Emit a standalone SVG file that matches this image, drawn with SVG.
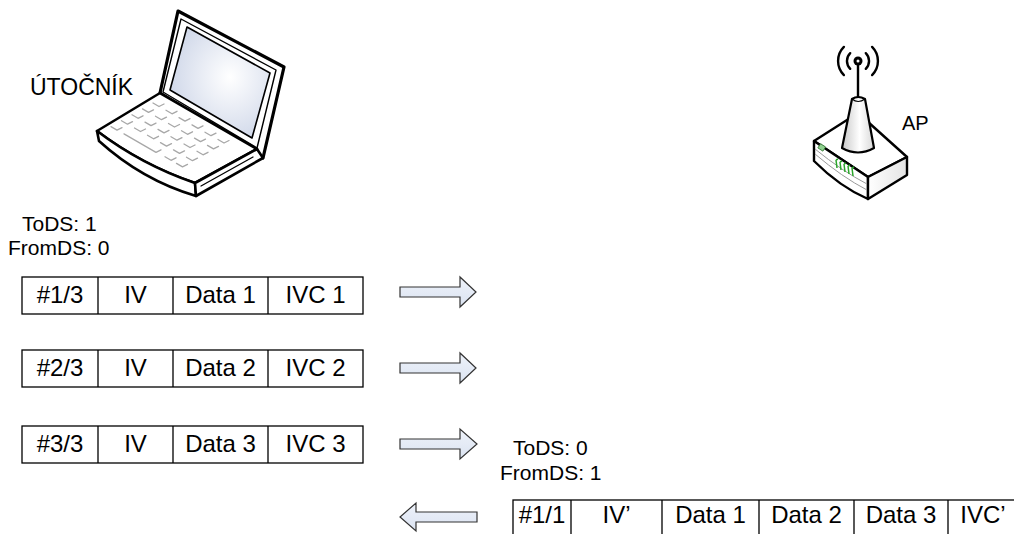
<svg xmlns="http://www.w3.org/2000/svg" width="1014" height="534" viewBox="0 0 1014 534">
  <style>
    text { font-family: "Liberation Sans", Arial, sans-serif; fill: #000; }
    .lbl { font-size: 21px; }
    .cell { font-size: 24px; text-anchor: middle; }
    .box { fill: #fff; stroke: #000; stroke-width: 1.3; }
    .div { stroke: #000; stroke-width: 1.3; }
    .arrow { fill: url(#arrowFill); stroke: #333; stroke-width: 1.2; stroke-linejoin: miter; }
    .ink { fill: none; stroke: #000; stroke-linejoin: round; stroke-linecap: round; }
    .keys { fill: none; stroke: #a8a8a8; stroke-width: 1.3; stroke-linecap: round; stroke-linejoin: round; }
  </style>
  <defs>
    <linearGradient id="arrowFill" x1="0" y1="0" x2="0" y2="1">
      <stop offset="0" stop-color="#eef2fa"/>
      <stop offset="1" stop-color="#dbe3f1"/>
    </linearGradient>
    <radialGradient id="screenFill" cx="0.6" cy="0.45" r="0.7">
      <stop offset="0" stop-color="#ffffff"/>
      <stop offset="1" stop-color="#c9d2e6"/>
    </radialGradient>
    <linearGradient id="coneFill" x1="0" y1="0" x2="1" y2="0">
      <stop offset="0" stop-color="#c8c8c8"/>
      <stop offset="0.55" stop-color="#ffffff"/>
      <stop offset="1" stop-color="#d8d8d8"/>
    </linearGradient>
    <linearGradient id="sideFill" x1="0" y1="0" x2="1" y2="0">
      <stop offset="0" stop-color="#ffffff"/>
      <stop offset="1" stop-color="#e4e4e4"/>
    </linearGradient>
  </defs>

  <!-- attacker laptop -->
  <g id="laptop">
    <!-- lid -->
    <polygon points="178,11 284,67 263,158 160,93" fill="#fff" stroke="#000" stroke-width="3.2" stroke-linejoin="round"/>
    <polygon points="181,19 276,70 257,148 163,92" class="ink" stroke-width="1.4"/>
    <polygon points="187,27 270,73 252,138 170,90" fill="url(#screenFill)" stroke="#000" stroke-width="1.6" stroke-linejoin="round"/>
    <!-- base -->
    <path d="M160,93 L257,149 L195,183 Q142,165 97,131 Z" fill="#fff" stroke="#000" stroke-width="2.6" stroke-linejoin="round"/>
    <path d="M97,131 Q142,165 195,183 L196,196 Q142,180 99,141 Z" fill="#fff" stroke="#000" stroke-width="2.6" stroke-linejoin="round"/>
    <path d="M195,183 L257,149 L263,158 L196,196 Z" fill="#fff" stroke="#000" stroke-width="2.6" stroke-linejoin="round"/>
    <path d="M201,186 L253,157" class="ink" stroke-width="1.3"/>
    <!-- keyboard -->
    <path class="keys" d="
      M153,103 l6,3.5 l5,-2.5 M166,110.3 l6,3.5 l5,-2.5 M179,117.6 l6,3.5 l5,-2.5 M192,124.9 l6,3.5 l5,-2.5 M205,132.2 l6,3.5 l5,-2.5 M218,139.5 l6,3.5 l5,-2.5
      M142.5,108.9 l6,3.5 l5,-2.5 M155.5,116.2 l6,3.5 l5,-2.5 M168.5,123.5 l6,3.5 l5,-2.5 M181.5,130.8 l6,3.5 l5,-2.5 M194.5,138.1 l6,3.5 l5,-2.5 M207.5,145.4 l6,3.5 l5,-2.5
      M132,114.8 l6,3.5 l5,-2.5 M145,122.1 l6,3.5 l5,-2.5 M158,129.4 l6,3.5 l5,-2.5 M171,136.7 l6,3.5 l5,-2.5 M184,144 l6,3.5 l5,-2.5 M197,151.3 l6,3.5 l5,-2.5
      M121.5,120.7 l6,3.5 l5,-2.5 M134.5,128 l6,3.5 l5,-2.5 M147.5,135.3 l6,3.5 l5,-2.5 M160.5,142.6 l6,3.5 l5,-2.5 M173.5,149.9 l6,3.5 l5,-2.5 M186.5,157.2 l6,3.5 l5,-2.5
      M111,126.6 l6,3.5 l5,-2.5 M124,133.9 l32,18.5 l5,-2.5 M165,156.8 l6,3.5 l5,-2.5 M176.5,163.4 l6,3.5 l5,-2.5"/>
  </g>
  <text id="attacker-label" x="30" y="95" font-size="23">ÚTOČNÍK</text>

  <!-- access point -->
  <g id="ap">
    <!-- base box -->
    <polygon points="814,141 858,113 907,157 868,177" fill="#fff" stroke="#000" stroke-width="2.4" stroke-linejoin="round"/>
    <path d="M814,141 L868,177 L868,199 Q840,187 814,161 Z" fill="#fff" stroke="#000" stroke-width="2.4" stroke-linejoin="round"/>
    <path d="M868,177 L907,157 L907,175 L868,199 Z" fill="url(#sideFill)" stroke="#000" stroke-width="2.4" stroke-linejoin="round"/>
    <path d="M815,149 Q842,171 867,184 M815,154 Q842,177 867,190" fill="none" stroke="#9a9a9a" stroke-width="1"/>
    <rect x="819" y="145" width="6" height="5" fill="#8fd18f" stroke="#3a7a3a" stroke-width="0.8" transform="rotate(33 822 147)"/>
    <path d="M836,160 l1,8 M840,162 l1,8 M844,164 l1,8 M848,166 l1,8 M852,168 l1,8 M836,160 l2,-1 M840,162 l2,-1 M844,164 l2,-1 M848,166 l2,-1 M852,168 l2,-1" fill="none" stroke="#2aa52a" stroke-width="1.5"/>
    <!-- antenna mast and cone -->
    <line x1="858" y1="61" x2="858" y2="100" stroke="#000" stroke-width="2.4"/>
    <path d="M852,99 Q858,95 865,99 L874,148 Q858,157 842,148 Z" fill="url(#coneFill)" stroke="#000" stroke-width="2.2" stroke-linejoin="round"/>
    <path d="M852,99 Q858,104 865,99" fill="none" stroke="#000" stroke-width="1.2"/>
    <!-- radio waves -->
    <circle cx="858" cy="61" r="4.5" fill="#000"/>
    <circle cx="858" cy="61" r="1.5" fill="#fff"/>
    <path d="M850.2,53.2 A11,11 0 0 0 850.2,68.8 M865.8,53.2 A11,11 0 0 1 865.8,68.8 M843.9,46.9 A20,20 0 0 0 843.9,75.1 M872.1,46.9 A20,20 0 0 1 872.1,75.1" class="ink" stroke-width="2.4"/>
  </g>
  <text id="ap-label" x="902" y="130" font-size="20">AP</text>

  <!-- frame flags -->
  <text class="lbl" x="22" y="231">ToDS: 1</text>
  <text class="lbl" x="8" y="255">FromDS: 0</text>
  <text class="lbl" x="513" y="455">ToDS: 0</text>
  <text class="lbl" x="500" y="480">FromDS: 1</text>

  <!-- fragment 1 -->
  <g id="frag1">
    <rect class="box" x="22" y="277" width="341" height="37"/>
    <path class="div" d="M98,277 V314 M173,277 V314 M268,277 V314"/>
    <text class="cell" x="60" y="303">#1/3</text>
    <text class="cell" x="135.5" y="303">IV</text>
    <text class="cell" x="220.5" y="303">Data 1</text>
    <text class="cell" x="315.5" y="303">IVC 1</text>
  </g>

  <!-- fragment 2 -->
  <g id="frag2">
    <rect class="box" x="22" y="350" width="341" height="37"/>
    <path class="div" d="M98,350 V387 M173,350 V387 M268,350 V387"/>
    <text class="cell" x="60" y="376">#2/3</text>
    <text class="cell" x="135.5" y="376">IV</text>
    <text class="cell" x="220.5" y="376">Data 2</text>
    <text class="cell" x="315.5" y="376">IVC 2</text>
  </g>

  <!-- fragment 3 -->
  <g id="frag3">
    <rect class="box" x="22" y="426" width="341" height="37"/>
    <path class="div" d="M98,426 V463 M173,426 V463 M268,426 V463"/>
    <text class="cell" x="60" y="452">#3/3</text>
    <text class="cell" x="135.5" y="452">IV</text>
    <text class="cell" x="220.5" y="452">Data 3</text>
    <text class="cell" x="315.5" y="452">IVC 3</text>
  </g>

  <!-- reassembled frame from AP -->
  <g id="frame-out">
    <rect class="box" x="513" y="500" width="520" height="50"/>
    <path class="div" d="M571,500 V534 M662,500 V534 M759,500 V534 M854,500 V534 M948,500 V534"/>
    <text class="cell" x="542" y="523">#1/1</text>
    <text class="cell" x="616.5" y="523">IV’</text>
    <text class="cell" x="710.5" y="523">Data 1</text>
    <text class="cell" x="806.5" y="523">Data 2</text>
    <text class="cell" x="901" y="523">Data 3</text>
    <text class="cell" x="983" y="523">IVC’</text>
  </g>

  <!-- transfer arrows -->
  <g id="connectors">
    <path class="arrow" d="M400,287 H460 V277 L476,292 L460,307 V297 H400 Z"/>
    <path class="arrow" d="M400,363 H460 V353 L476,368 L460,383 V373 H400 Z"/>
    <path class="arrow" d="M400,439 H460 V429 L477,444 L460,459 V449 H400 Z"/>
    <path class="arrow" d="M477,512 H416 V503 L400,517 L416,531 V522 H477 Z"/>
  </g>
</svg>
